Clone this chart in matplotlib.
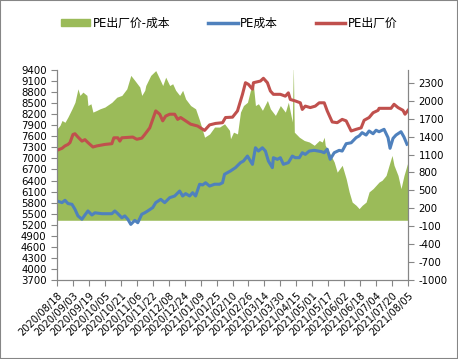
#!/usr/bin/env python3

import numpy as np
import matplotlib
matplotlib.use('Agg')
import matplotlib.pyplot as plt
import matplotlib.patches as mpatches
from matplotlib.lines import Line2D
import pandas as pd

plt.rcParams['font.family'] = ['DejaVu Sans', 'Noto Sans CJK SC']
plt.rcParams['axes.unicode_minus'] = False

# PE出厂价 (left axis)
price_dates = ['2020-08-18', '2020-08-23', '2020-08-26', '2020-08-29', '2020-08-31', '2020-09-03',
               '2020-09-05', '2020-09-08', '2020-09-12', '2020-09-15', '2020-09-18', '2020-09-23',
               '2020-09-27', '2020-10-05', '2020-10-12', '2020-10-14', '2020-10-18', '2020-10-20',
               '2020-10-22', '2020-11-02', '2020-11-06', '2020-11-11', '2020-11-14', '2020-11-19',
               '2020-11-25', '2020-11-29', '2020-12-02', '2020-12-05', '2020-12-09', '2020-12-14',
               '2020-12-17', '2020-12-20', '2020-12-25', '2020-12-30', '2021-01-06', '2021-01-13',
               '2021-01-18', '2021-01-24', '2021-01-31', '2021-02-03', '2021-02-10', '2021-02-15',
               '2021-02-20', '2021-02-23', '2021-02-26', '2021-03-02', '2021-03-03', '2021-03-10',
               '2021-03-13', '2021-03-17', '2021-03-20', '2021-03-23', '2021-03-30', '2021-04-04',
               '2021-04-07', '2021-04-09', '2021-04-14', '2021-04-19', '2021-04-21', '2021-04-24',
               '2021-04-29', '2021-05-04', '2021-05-08', '2021-05-13', '2021-05-16', '2021-05-21',
               '2021-05-26', '2021-05-31', '2021-06-04', '2021-06-09', '2021-06-14', '2021-06-19',
               '2021-06-22', '2021-06-27', '2021-07-01', '2021-07-06', '2021-07-07', '2021-07-12',
               '2021-07-19', '2021-07-22', '2021-07-26', '2021-07-31', '2021-08-02', '2021-08-05']
price = [7220, 7275, 7340, 7380, 7430, 7650,
         7670, 7580, 7470, 7510, 7430, 7310,
         7340, 7380, 7400, 7560, 7560, 7470,
         7560, 7580, 7520, 7550, 7650, 7830,
         8290, 8200, 8020, 8150, 8200, 8200,
         8060, 8110, 8020, 7930, 7880, 7760,
         7910, 7950, 7970, 8110, 8120, 8290,
         8740, 9055, 9010, 8880, 9055, 9100,
         9175, 9055, 8830, 8740, 8740, 8690,
         8780, 8600, 8560, 8510, 8330, 8420,
         8380, 8420, 8510, 8510, 8290, 7990,
         7970, 8060, 8020, 7745, 7790, 7830,
         8035, 8110, 8240, 8305, 8360, 8360,
         8360, 8470, 8380, 8305, 8200, 8305]

# PE成本 (left axis)
cost_dates = ['2020-08-18', '2020-08-23', '2020-08-26', '2020-08-29', '2020-09-02', '2020-09-05',
              '2020-09-08', '2020-09-12', '2020-09-15', '2020-09-18', '2020-09-22', '2020-09-25',
              '2020-10-02', '2020-10-12', '2020-10-15', '2020-10-18', '2020-10-22', '2020-10-25',
              '2020-10-28', '2020-10-31', '2020-11-04', '2020-11-07', '2020-11-11', '2020-11-14',
              '2020-11-17', '2020-11-22', '2020-11-25', '2020-11-30', '2020-12-04', '2020-12-09',
              '2020-12-14', '2020-12-19', '2020-12-22', '2020-12-25', '2020-12-29', '2021-01-01',
              '2021-01-04', '2021-01-08', '2021-01-11', '2021-01-14', '2021-01-18', '2021-01-23',
              '2021-01-28', '2021-01-31', '2021-02-02', '2021-02-05', '2021-02-08', '2021-02-13',
              '2021-02-18', '2021-02-21', '2021-02-25', '2021-02-28', '2021-03-02', '2021-03-05',
              '2021-03-08', '2021-03-12', '2021-03-15', '2021-03-18', '2021-03-22', '2021-03-23',
              '2021-03-27', '2021-03-30', '2021-04-02', '2021-04-07', '2021-04-11', '2021-04-14',
              '2021-04-18', '2021-04-21', '2021-04-24', '2021-04-28', '2021-05-03', '2021-05-10',
              '2021-05-13', '2021-05-16', '2021-05-19', '2021-05-23', '2021-05-28', '2021-05-31',
              '2021-06-04', '2021-06-09', '2021-06-14', '2021-06-17', '2021-06-20', '2021-06-24',
              '2021-06-27', '2021-07-01', '2021-07-04', '2021-07-07', '2021-07-12', '2021-07-16',
              '2021-07-18', '2021-07-21', '2021-07-24', '2021-07-29', '2021-08-01', '2021-08-04']
cost = [5845, 5800, 5865, 5775, 5755, 5620,
        5440, 5350, 5465, 5575, 5465, 5525,
        5500, 5500, 5575, 5500, 5390, 5440,
        5350, 5210, 5320, 5255, 5485, 5525,
        5575, 5665, 5800, 5890, 5800, 5935,
        5980, 6115, 5980, 6045, 5980, 6070,
        5980, 6300, 6280, 6340, 6250, 6300,
        6300, 6340, 6570, 6615, 6660, 6750,
        6885, 6930, 7065, 6930, 6840, 7290,
        7200, 7290, 7200, 6930, 6750, 7020,
        6975, 7020, 6840, 6885, 7065, 7020,
        7020, 7155, 7110, 7200, 7220, 7185,
        7155, 7250, 6975, 7155, 7220, 7200,
        7400, 7425, 7565, 7610, 7700, 7635,
        7745, 7670, 7765, 7725, 7790, 7565,
        7275, 7545, 7635, 7725, 7580, 7385]

# PE出厂价-成本 (right axis)
spread_dates = ['2020-08-18', '2020-08-21', '2020-08-23', '2020-08-26', '2020-08-29', '2020-09-02',
                '2020-09-05', '2020-09-08', '2020-09-10', '2020-09-13', '2020-09-17', '2020-09-18',
                '2020-09-21', '2020-09-23', '2020-09-27', '2020-09-30', '2020-10-05', '2020-10-12',
                '2020-10-17', '2020-10-22', '2020-10-27', '2020-10-31', '2020-11-04', '2020-11-09',
                '2020-11-11', '2020-11-14', '2020-11-15', '2020-11-20', '2020-11-25', '2020-11-29',
                '2020-12-02', '2020-12-05', '2020-12-09', '2020-12-12', '2020-12-15', '2020-12-19',
                '2020-12-22', '2020-12-25', '2020-12-30', '2021-01-04', '2021-01-08', '2021-01-13',
                '2021-01-18', '2021-01-23', '2021-01-28', '2021-02-02', '2021-02-07', '2021-02-08',
                '2021-02-11', '2021-02-15', '2021-02-18', '2021-02-21', '2021-02-25', '2021-02-28',
                '2021-03-03', '2021-03-05', '2021-03-08', '2021-03-12', '2021-03-17', '2021-03-20',
                '2021-03-25', '2021-03-30', '2021-04-04', '2021-04-07', '2021-04-11', '2021-04-12',
                '2021-04-13', '2021-04-18', '2021-04-23', '2021-04-28', '2021-05-03', '2021-05-08',
                '2021-05-11', '2021-05-13', '2021-05-14', '2021-05-18', '2021-05-23', '2021-05-26',
                '2021-05-31', '2021-06-04', '2021-06-07', '2021-06-10', '2021-06-14', '2021-06-17',
                '2021-06-20', '2021-06-24', '2021-06-27', '2021-07-01', '2021-07-04', '2021-07-07',
                '2021-07-10', '2021-07-14', '2021-07-17', '2021-07-20', '2021-07-22', '2021-07-26',
                '2021-07-29', '2021-08-01', '2021-08-04', '2021-08-05']
spread = [1530, 1590, 1670, 1640, 1730, 1865,
          1975, 2200, 2090, 2145, 2090, 1920,
          1950, 1810, 1840, 1865, 1895, 1975,
          2060, 2090, 2200, 2425, 2340, 2230,
          2090, 2175, 2255, 2425, 2505, 2365,
          2255, 2395, 2255, 2285, 2175, 2090,
          2175, 2030, 1920, 1865, 1670, 1390,
          1445, 1560, 1560, 1615, 1505, 1365,
          1475, 1445, 1810, 1920, 1975, 2175,
          2255, 1920, 1950, 1840, 2005, 1865,
          1755, 1920, 1810, 1975, 1645, 2600,
          1475, 1390, 1335, 1310, 1255, 1335,
          1310, 1390, 1255, 1140, 975, 805,
          920, 695, 475, 305, 250, 195,
          250, 305, 475, 530, 585, 640,
          670, 750, 920, 1085, 920, 750,
          530, 750, 920, 975]

tick_labels = ['2020/08/18', '2020/09/03', '2020/09/19', '2020/10/05', '2020/10/21', '2020/11/06',
               '2020/11/22', '2020/12/08', '2020/12/24', '2021/01/09', '2021/01/25', '2021/02/10',
               '2021/02/26', '2021/03/14', '2021/03/30', '2021/04/15', '2021/05/01', '2021/05/17',
               '2021/06/02', '2021/06/18', '2021/07/04', '2021/07/20', '2021/08/05']

green = '#9BBB59'
blue = '#4F81BD'
red = '#C0504D'
gray = '#868686'

fig = plt.figure(figsize=(4.58, 3.59), dpi=100)
fig.patches.append(mpatches.Rectangle((0, 0), 1, 1, transform=fig.transFigure,
                                      fill=False, edgecolor=gray, linewidth=1.5))

# area on the secondary (right) scale, lines on the primary (left) scale drawn on top
ax = fig.add_axes([0.1245, 0.22, 0.7663, 0.585])
ax.fill_between(pd.to_datetime(spread_dates), 0, spread, color=green, linewidth=0)
ax.set_ylim(-1000, 2515)
ax.set_yticks(np.arange(-1000, 2301, 300))

ax2 = ax.twinx()
ax2.plot(pd.to_datetime(cost_dates), cost, color=blue, linewidth=2.2)
ax2.plot(pd.to_datetime(price_dates), price, color=red, linewidth=2.2)
ax2.set_ylim(3700, 9400)
ax2.set_yticks(np.arange(3700, 9401, 300))

ax.yaxis.tick_right()
ax2.yaxis.tick_left()

ticks = pd.to_datetime(tick_labels, format='%Y/%m/%d')
ax.set_xlim(ticks[0], ticks[-1])
ax.set_xticks(ticks)
ax.set_xticklabels(tick_labels, rotation=45, ha='right', rotation_mode='anchor', fontsize=7.1)

for a in (ax, ax2):
    a.spines['top'].set_visible(False)
    for s in ('left', 'right', 'bottom'):
        a.spines[s].set_color(gray)
    a.tick_params(colors=gray, labelcolor='black', labelsize=7.3, length=4, width=0.8)
ax.tick_params(axis='x', labelsize=7.1)

handles = [mpatches.Patch(color=green),
           Line2D([], [], color=blue, linewidth=2.5),
           Line2D([], [], color=red, linewidth=2.5)]
fig.legend(handles, ['PE出厂价-成本', 'PE成本', 'PE出厂价'], loc='center', ncol=3,
           bbox_to_anchor=(0.5, 0.935), frameon=False, fontsize=8.5,
           handlelength=2.5, handleheight=0.6, columnspacing=3.2, handletextpad=0.2)

plt.savefig('out.png', dpi=100)
plt.close()
